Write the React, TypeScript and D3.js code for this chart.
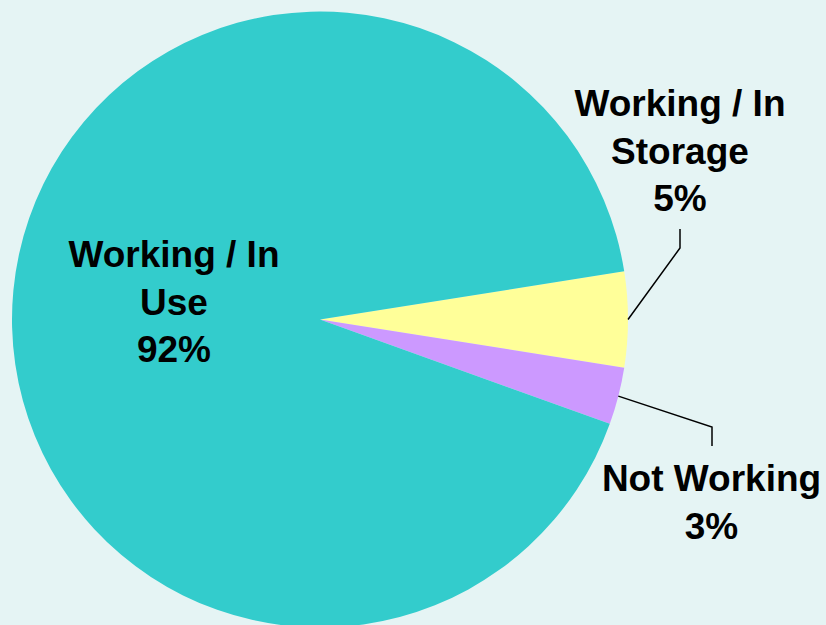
import React from "react";
import * as d3 from "d3";

const categories = ["Working / In Storage", "Not Working", "Working / In Use"];
const values = [5, 3, 92];
const colors = ["#FFFF99", "#CC99FF", "#33CCCC"];
const labelLines = [["Working / In", "Storage", "5%"], ["Not Working", "3%"], ["Working / In", "Use", "92%"]];

const W = 826, H = 625;
const cx = 320, cy = 319.5, R = 308;
const startDeg = 81;

export default function App() {
  const pie = d3.pie<number>().sort(null).value((d) => d)
    .startAngle((startDeg * Math.PI) / 180)
    .endAngle((startDeg * Math.PI) / 180 + 2 * Math.PI);
  const arcs = pie(values);
  const arcGen = d3.arc<d3.PieArcDatum<number>>().innerRadius(0).outerRadius(R);
  const fontSize = 37;
  const lh = 47.5;

  const labelPos = [
    { x: 680, y: 116, elbow: [680, 248], end: [680, 229] },
    { x: 711.5, y: 491, elbow: [712, 427], end: [712, 446] },
    { x: 174, y: 267, elbow: null, end: null },
  ];

  return (
    <svg width={W} height={H} style={{ position: "absolute", left: 0, top: 0, display: "block" }}>
      <rect x={0} y={0} width={W} height={H} fill="#E5F4F4" />
      <g transform={`translate(${cx},${cy})`}>
        {arcs.map((a, i) => (
          <path key={categories[i]} d={arcGen(a) || ""} fill={colors[i]} />
        ))}
      </g>
      {arcs.map((a, i) => {
        const lp = labelPos[i];
        if (!lp.elbow) return null;
        const mid = (a.startAngle + a.endAngle) / 2;
        const px = cx + R * Math.sin(mid);
        const py = cy - R * Math.cos(mid);
        return (
          <polyline key={"l" + i}
            points={`${px},${py} ${lp.elbow[0]},${lp.elbow[1]} ${lp.end![0]},${lp.end![1]}`}
            fill="none" stroke="#000" strokeWidth={1.5} />
        );
      })}
      {labelLines.map((lines, i) => (
        <text key={"t" + i} textAnchor="middle" fontFamily="'Liberation Sans', Arial, sans-serif"
          fontWeight="bold" fontSize={fontSize} fill="#000">
          {lines.map((ln, j) => (
            <tspan key={j} x={labelPos[i].x} y={labelPos[i].y + j * lh}>{ln}</tspan>
          ))}
        </text>
      ))}
    </svg>
  );
}
